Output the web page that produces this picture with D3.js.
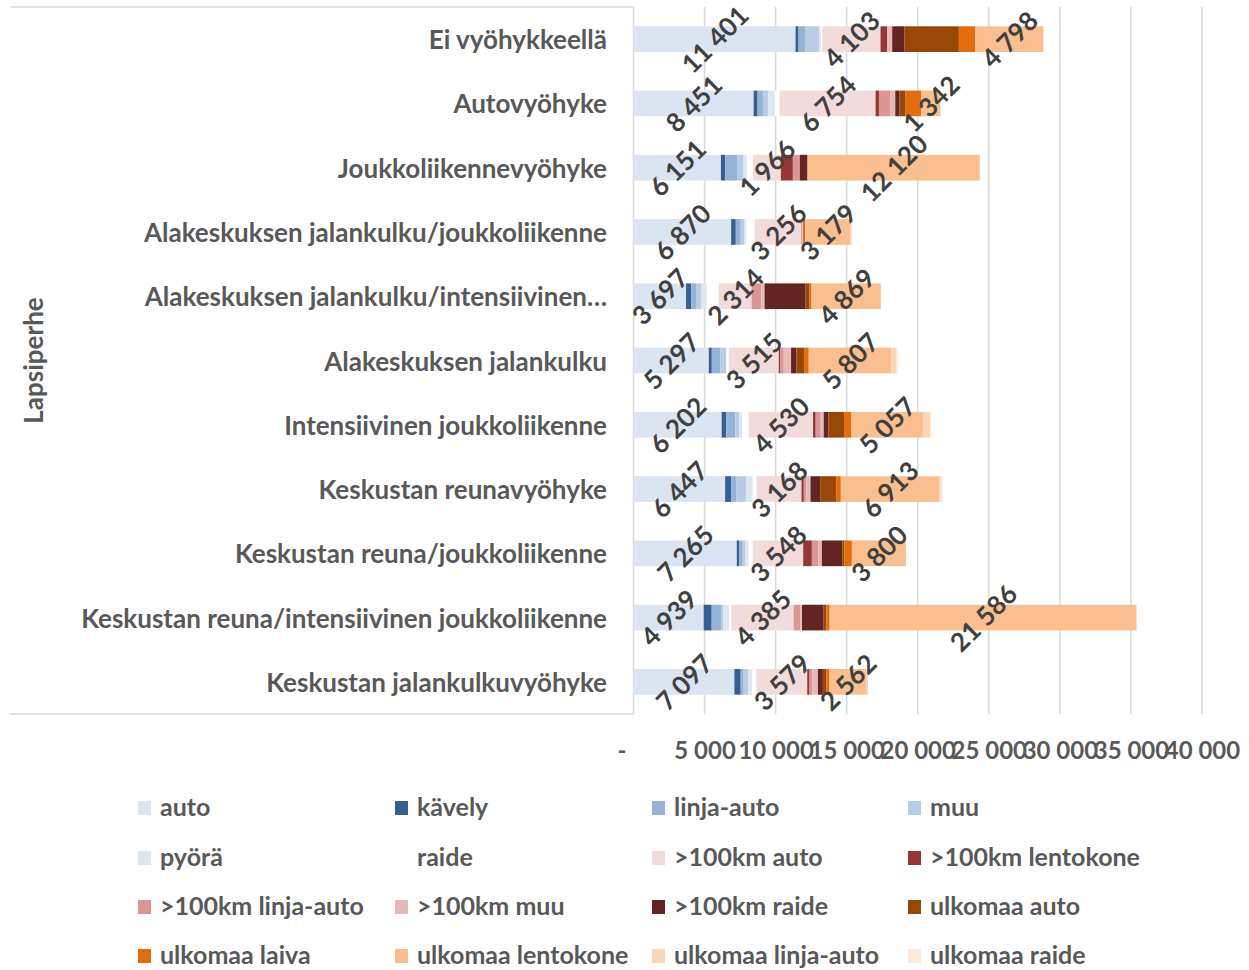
<!DOCTYPE html>
<html>
<head>
<meta charset="utf-8">
<script src="https://cdn.jsdelivr.net/npm/d3@7"></script>
<style>
  html, body { margin: 0; padding: 0; background: #ffffff; }
  svg { display: block; }
  text { font-family: Lato, "Open Sans", sans-serif; font-weight: 700; }
</style>
</head>
<body>
<svg id="chart" width="1249" height="970"></svg>
<script>
// Zones (displayed category labels), top to bottom
const categories = [
  "Ei vyöhykkeellä",
  "Autovyöhyke",
  "Joukkoliikennevyöhyke",
  "Alakeskuksen jalankulku/joukkoliikenne",
  "Alakeskuksen jalankulku/intensiivinen…",
  "Alakeskuksen jalankulku",
  "Intensiivinen joukkoliikenne",
  "Keskustan reunavyöhyke",
  "Keskustan reuna/joukkoliikenne",
  "Keskustan reuna/intensiivinen joukkoliikenne",
  "Keskustan jalankulkuvyöhyke"
];
const groupLabel = "Lapsiperhe";

// Series names in stacking order
const seriesNames = [
  "auto", "kävely", "linja-auto", "muu", "pyörä", "raide",
  ">100km auto", ">100km lentokone", ">100km linja-auto", ">100km muu", ">100km raide",
  "ulkomaa auto", "ulkomaa laiva", "ulkomaa lentokone", "ulkomaa linja-auto", "ulkomaa raide"
];

// Values per series, one per zone
const auto            = [11401, 8451, 6151, 6870, 3697, 5297, 6202, 6447, 7265, 4939, 7097];
const kavely          = [212, 282, 305, 328, 375, 211, 329, 422, 187, 563, 445];
const linjaAuto       = [492, 375, 868, 352, 328, 610, 633, 352, 235, 657, 211];
const muu             = [938, 375, 422, 234, 352, 422, 281, 703, 188, 141, 329];
const pyora           = [165, 469, 234, 164, 399, 0, 188, 470, 234, 422, 258];
const raide           = [70, 329, 423, 587, 844, 164, 469, 257, 282, 164, 304];
const yli100Auto      = [4103, 6754, 1966, 3256, 2314, 3515, 4530, 3168, 3548, 4385, 3579];
const yli100Lentokone = [469, 235, 844, 0, 0, 118, 188, 164, 610, 0, 164];
const yli100LinjaAuto = [0, 821, 493, 80, 680, 234, 352, 188, 446, 469, 188];
const yli100Muu       = [352, 328, 0, 65, 234, 516, 211, 282, 258, 117, 399];
const yli100Raide     = [868, 305, 539, 0, 2885, 375, 328, 680, 1454, 1525, 351];
const ulkAuto         = [3823, 422, 0, 50, 282, 540, 1102, 1125, 117, 187, 235];
const ulkLaiva        = [1149, 1102, 0, 90, 140, 328, 493, 329, 540, 235, 235];
const ulkLentokone    = [4798, 1342, 12120, 3179, 4869, 5807, 5057, 6913, 3800, 21586, 2562];
const ulkLinjaAuto    = [0, 0, 0, 95, 0, 351, 492, 118, 0, 0, 141];
const ulkRaide        = [0, 0, 0, 0, 0, 118, 70, 117, 0, 0, 0];

const seriesValues = [
  auto, kavely, linjaAuto, muu, pyora, raide,
  yli100Auto, yli100Lentokone, yli100LinjaAuto, yli100Muu, yli100Raide,
  ulkAuto, ulkLaiva, ulkLentokone, ulkLinjaAuto, ulkRaide
];

const seriesColors = [
  "#dbe4f1", "#366092", "#95b3d7", "#b8cce4", "#dde7f2", "#ffffff",
  "#f2dcdb", "#953735", "#da9694", "#e6b8b7", "#632523",
  "#974706", "#e46c0a", "#fabf8f", "#fcd5b4", "#fde9d9"
];

// Series that carry value labels
const labelledSeries = ["auto", ">100km auto", "ulkomaa lentokone"];

// Value axis ticks
const xTicks = [0, 5000, 10000, 15000, 20000, 25000, 30000, 35000, 40000];

const svg = d3.select("#chart");
const gridColor = "#d9d9d9";
const textColor = "#595959";

const plotLeft = 633.5, plotRight = 1202, plotTop = 7, plotBottom = 714;

const x = d3.scaleLinear().domain([0, 40000]).range([plotLeft, plotRight]);
const y = d3.scaleBand().domain(categories).range([plotTop, plotBottom])
  .paddingInner(0.6).paddingOuter(0.3);
const color = d3.scaleOrdinal().domain(seriesNames).range(seriesColors);

// Table of rows for stacking
const rows = categories.map((c, i) => {
  const r = { category: c };
  seriesNames.forEach((s, j) => { r[s] = seriesValues[j][i]; });
  return r;
});
const stacked = d3.stack().keys(seriesNames)(rows);

// Gridlines
svg.append("g").selectAll("line")
  .data(xTicks.slice(1))
  .join("line")
  .attr("x1", d => x(d)).attr("x2", d => x(d))
  .attr("y1", plotTop).attr("y2", plotBottom)
  .attr("stroke", gridColor).attr("stroke-width", 1.5);

// Category axis frame
const frame = svg.append("g").attr("stroke", gridColor).attr("stroke-width", 1.5);
frame.append("line").attr("x1", 10).attr("x2", plotLeft).attr("y1", plotTop).attr("y2", plotTop);
frame.append("line").attr("x1", 10).attr("x2", plotLeft).attr("y1", plotBottom).attr("y2", plotBottom);
frame.append("line").attr("x1", plotLeft).attr("x2", plotLeft).attr("y1", plotTop).attr("y2", plotBottom);

// Stacked bars
svg.append("g").selectAll("g")
  .data(stacked)
  .join("g")
  .attr("fill", d => color(d.key))
  .selectAll("rect")
  .data(d => d)
  .join("rect")
  .attr("x", d => x(d[0]))
  .attr("width", d => Math.max(0, x(d[1]) - x(d[0])))
  .attr("y", d => y(d.data.category))
  .attr("height", y.bandwidth());

// Rotated value labels
const fmt = v => d3.format(",")(v).replace(/,/g, " ");
const labelLayer = svg.append("g");
stacked.filter(s => labelledSeries.includes(s.key)).forEach(s => {
  labelLayer.selectAll(null)
    .data(s)
    .join("text")
    .attr("transform", d => {
      const cx = (x(d[0]) + x(d[1])) / 2;
      const cy = y(d.data.category) + y.bandwidth() / 2;
      return `translate(${cx},${cy}) rotate(-45)`;
    })
    .attr("text-anchor", "middle")
    .attr("dominant-baseline", "central")
    .attr("fill", "#404040")
    .style("font-size", "26px")
    .text(d => fmt(d[1] - d[0]));
});

// Category labels
svg.append("g").selectAll("text")
  .data(categories)
  .join("text")
  .attr("x", 607)
  .attr("y", d => y(d) + y.bandwidth() / 2)
  .attr("text-anchor", "end")
  .attr("dominant-baseline", "central")
  .attr("fill", textColor)
  .style("font-size", "26px")
  .text(d => d);

// Group label
svg.append("text")
  .attr("transform", `translate(33,${(plotTop + plotBottom) / 2}) rotate(-90)`)
  .attr("text-anchor", "middle")
  .attr("dominant-baseline", "central")
  .attr("fill", textColor)
  .style("font-size", "26px")
  .text(groupLabel);

// Value axis labels
const xAxis = d3.axisBottom(x)
  .tickValues(xTicks)
  .tickSize(0)
  .tickFormat(d => d === 0 ? "-" : fmt(d));
const axisG = svg.append("g")
  .attr("transform", `translate(0,${plotBottom})`)
  .call(xAxis);
axisG.select(".domain").remove();
axisG.selectAll("text")
  .attr("y", 37)
  .attr("dy", "0.35em")
  .attr("fill", textColor)
  .style("font-size", "24px")
  .style("font-family", "Lato, sans-serif")
  .style("font-weight", 700)
  .attr("dx", d => d === 0 ? -12 : 0);

// Legend: 4 columns x 4 rows
const legendCols = [138, 395, 652, 908];
const legendRows = [808, 858, 907, 956];
const legend = svg.append("g").selectAll("g")
  .data(seriesNames)
  .join("g")
  .attr("transform", (d, i) => `translate(${legendCols[i % 4]},${legendRows[Math.floor(i / 4)]})`);
legend.append("rect")
  .attr("x", 0).attr("y", -7)
  .attr("width", 13).attr("height", 14)
  .attr("fill", d => color(d));
legend.append("text")
  .attr("x", 22)
  .attr("y", -2)
  .attr("dominant-baseline", "central")
  .attr("fill", textColor)
  .style("font-size", "25px")
  .text(d => d);
</script>
</body>
</html>
